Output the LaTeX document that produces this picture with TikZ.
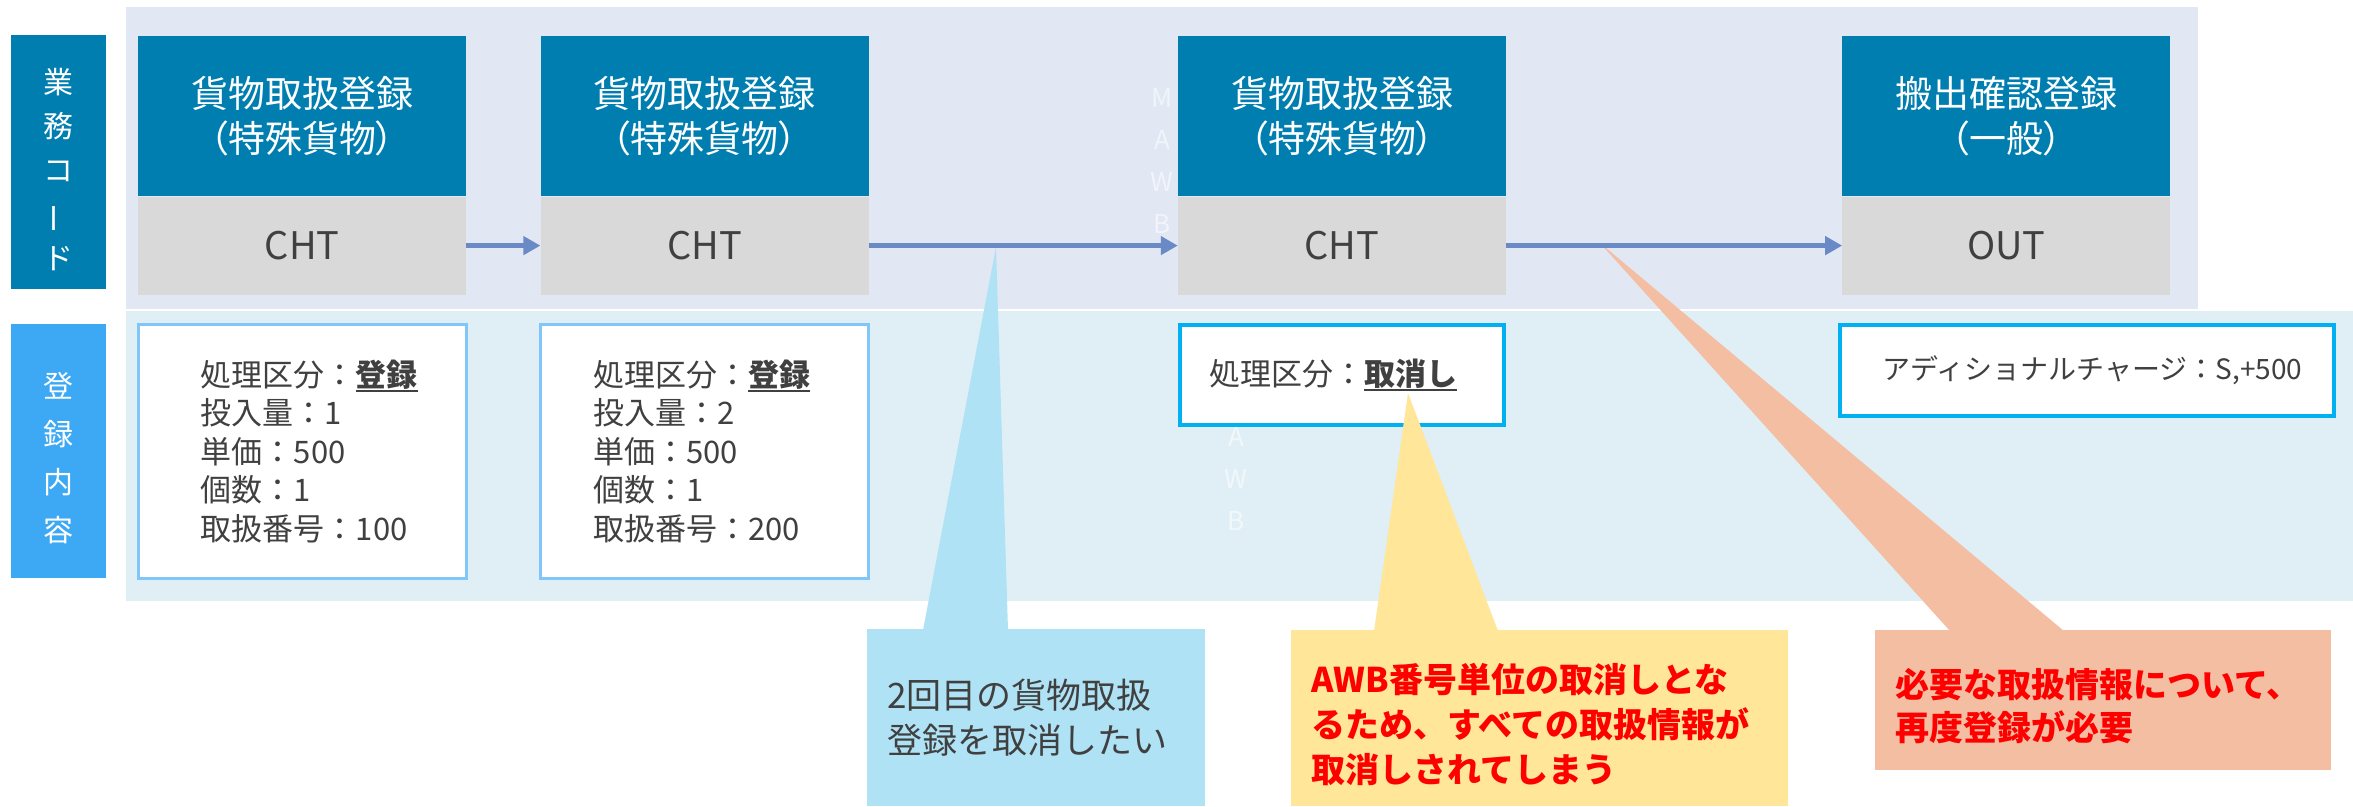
\documentclass[tikz,border=0pt]{standalone}
\usepackage{fontspec}
\setmainfont{Noto Sans CJK JP}
\newfontfamily\titlefont[RawFeature=+palt]{Noto Sans CJK JP}
\usepackage{xcolor}
\usetikzlibrary{positioning,calc,arrows.meta}

\definecolor{bandtop}{HTML}{E1E7F3}
\definecolor{bandbot}{HTML}{E0EFF5}
\definecolor{headblue}{HTML}{007EB0}
\definecolor{codegray}{HTML}{D9D9D9}
\definecolor{flowblue}{HTML}{6A8AC6}
\definecolor{labelblue}{HTML}{3DA9F5}
\definecolor{paleedge}{HTML}{80C6F8}
\definecolor{brightedge}{HTML}{00B0F0}
\definecolor{noteblue}{HTML}{B0E2F6}
\definecolor{noteyellow}{HTML}{FFE699}
\definecolor{notesalmon}{HTML}{F4BEA3}
\definecolor{txtgray}{HTML}{404040}

\newcommand\undl[1]{\setbox0\hbox{#1}\rlap{\rule[-6pt]{\wd0}{2pt}}\box0}
\newcommand\vbar{\rotatebox[origin=c]{90}{ー}}

\begin{document}
\begin{tikzpicture}[x=1pt,y=-1pt,
    head/.style={fill=headblue, text=white, minimum width=328pt, minimum height=160pt, inner sep=0pt, align=center, font=\titlefont\fontsize{37}{45}\selectfont},
    code/.style={fill=codegray, text=txtgray, minimum width=328pt, minimum height=98pt, inner sep=0pt, font=\fontsize{38}{44}\selectfont},
    info/.style={fill=white, draw=paleedge, line width=3pt, minimum width=328pt},
    infotext/.style={text=txtgray, align=left, inner sep=0pt, font=\fontsize{31}{38.5}\selectfont},
    side/.style={minimum width=95pt, minimum height=254pt, text=white, align=center, inner sep=0pt, font=\fontsize{30}{44}\selectfont},
    note/.style={minimum height=176pt, inner xsep=20pt, align=left, anchor=north west, font=\fontsize{35}{45}\selectfont},
    flow/.style={draw=flowblue, line width=5pt, -{Triangle[length=17pt,width=18pt]}},
    ghost/.style={align=center, inner sep=0pt, font=\fontsize{26}{42}\selectfont}
  ]
    \useasboundingbox (0,0) rectangle (2353,806);
    % bands
    \fill[bandtop] (126,7) rectangle (2198,309);
    \fill[bandbot] (126,311) rectangle (2353,601);

    % row labels
    \node[side, fill=headblue, anchor=north west] (gyomu) at (11,35) {\rule{0pt}{39pt}業\\務\\コ\\\vbar\\ド};
    \node[side, fill=labelblue, below=34pt of gyomu, font=\fontsize{30}{48}\selectfont] (naiyou) {\rule{0pt}{40pt}登\\録\\内\\容};

    % steps
    \node[head, anchor=north west] (h1) at (138,36) {貨物取扱登録\\（特殊貨物）};
    \node[head, right=74pt of h1] (h2) {貨物取扱登録\\（特殊貨物）};
    \node[head, right=309pt of h2] (h3) {貨物取扱登録\\（特殊貨物）};
    \node[head, right=336pt of h3] (h4) {搬出確認登録\\（一般）};

    \node[code, below=0pt of h1] (c1) {CHT};
    \node[code, below=0pt of h2] (c2) {CHT};
    \node[code, below=0pt of h3] (c3) {CHT};
    \node[code, below=0pt of h4] (c4) {OUT};

    \node[ghost, text=white!55!bandtop] (mawb) at (1162,161) {M\\A\\W\\B};

    % registered contents
    \node[info, minimum height=254pt, below=28pt of c1] (d1) {};
    \node[info, minimum height=254pt, below=28pt of c2] (d2) {};
    \node[info, draw=brightedge, line width=4pt, minimum width=324pt, minimum height=100pt, below=28pt of c3] (d3) {};
    \node[info, draw=brightedge, line width=4pt, minimum width=494pt, minimum height=91pt, below right=28pt and -4pt of c4.south west] (d4) {};

    \node[infotext, right=64pt of d1.west] (d1t) {処理区分：\undl{\textbf{登録}}\\投入量：1\\単価：500\\個数：1\\取扱番号：100};
    \node[infotext, right=54pt of d2.west] (d2t) {処理区分：\undl{\textbf{登録}}\\投入量：2\\単価：500\\個数：1\\取扱番号：200};
    \node[infotext, right=31pt of d3.west] (d3t) {処理区分：\undl{\textbf{取消し}}};
    \node[infotext, right=44pt of d4.west, font=\fontsize{28}{34}\selectfont] (d4t) {アディショナルチャージ：S,+500};

    \node[ghost, text=white!55!bandbot] (awb) at (1236,479) {A\\W\\B};

    % callouts
    \node[note, fill=noteblue, text=txtgray, text width=298pt, minimum height=177pt] (n1) at (867,629) {2回目の貨物取扱\\登録を取消したい};
    \node[note, fill=noteyellow, text=red, text width=457pt, font=\bfseries\fontsize{34}{45}\selectfont] (n2) at (1291,630) {\rule{0pt}{42pt}AWB番号単位の取消しとな\\るため、すべての取扱情報が\\取消しされてしまう};
    \node[note, fill=notesalmon, text=red, text width=416pt, minimum height=140pt, font=\bfseries\fontsize{34}{43}\selectfont] (n3) at (1875,630) {\rule{0pt}{40pt}必要な取扱情報について、\\再度登録が必要};

    \coordinate (t1) at (996,247);
    \coordinate (t2) at (1408,393);
    \coordinate (t3) at (1600,243);
    \fill[noteblue] (t1) -- ($(n1.north west)+(56,1)$) -- ($(n1.north west)+(141,1)$) -- cycle;
    \fill[noteyellow] (t2) -- ($(n2.north west)+(83,1)$) -- ($(n2.north west)+(207,1)$) -- cycle;
    \fill[notesalmon] (t3) -- ($(n3.north west)+(75,1)$) -- ($(n3.north west)+(189,1)$) -- cycle;

    % flow
    \draw[flow] (c1) -- (c2);
    \draw[flow] (c2) -- (c3);
    \draw[flow] (c3) -- (c4);
\end{tikzpicture}
\end{document}
